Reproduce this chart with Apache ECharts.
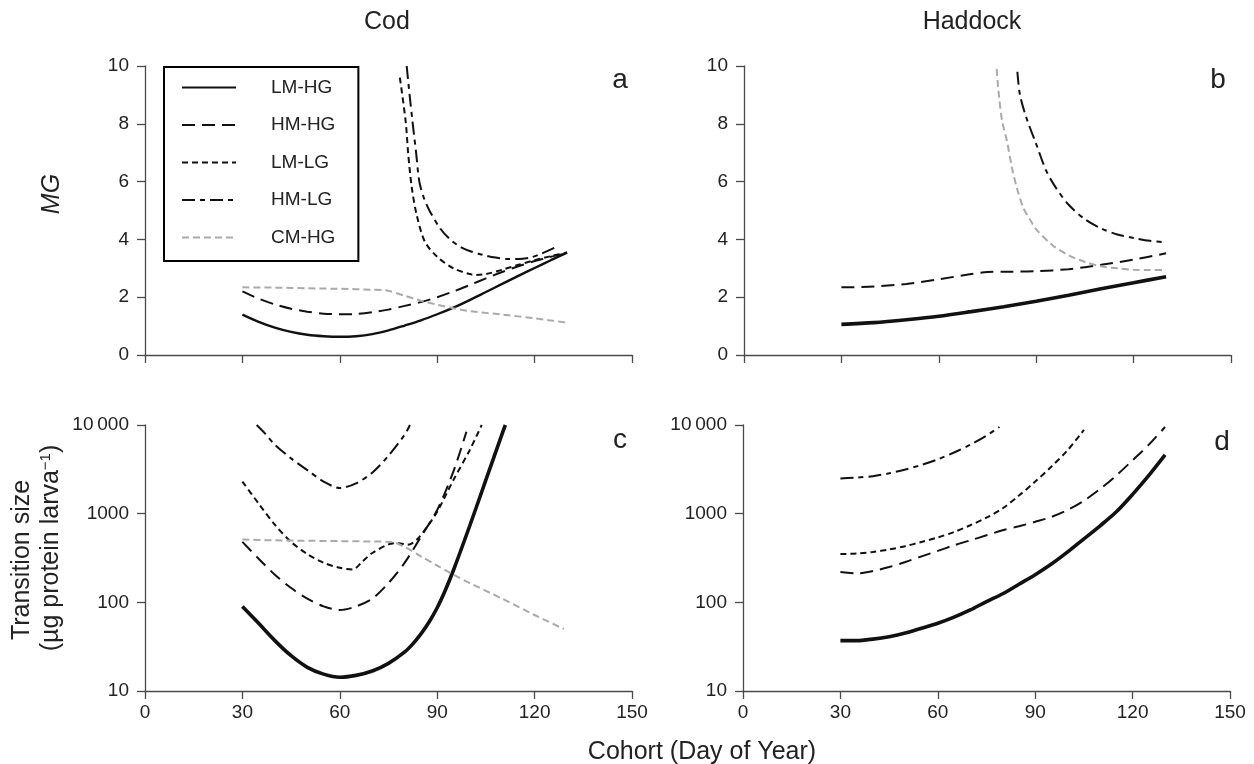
<!DOCTYPE html>
<html><head><meta charset="utf-8">
<script src="https://cdn.jsdelivr.net/npm/echarts@6/dist/echarts.min.js"></script>
<style>html,body{margin:0;padding:0;background:#fff}#c{width:1254px;height:764px}</style>
</head><body><div id="c"></div>
<script>
// ---------- tick labels ----------
const xTicks = [0, 30, 60, 90, 120, 150];
const mgTicks = [0, 2, 4, 6, 8, 10];
const sizeTicks = [10, 100, 1000, 10000];
const seriesNames = ['LM-HG', 'HM-HG', 'LM-LG', 'HM-LG', 'CM-HG'];

// ---------- panel a: Cod, MG ----------
const codMG_LMHG_x = [30,35,40,45,50,55,60,65,70,75,80,85,90,95,100,105,110,115,120,125,130];
const codMG_LMHG_y = [1.40,1.15,0.95,0.80,0.70,0.65,0.63,0.65,0.72,0.85,1.02,1.20,1.41,1.64,1.90,2.18,2.46,2.74,3.01,3.28,3.54];
const codMG_HMHG_x = [30,35,40,45,50,55,60,65,70,75,80,85,90,95,100,105,110,115,120,125,130];
const codMG_HMHG_y = [2.20,1.95,1.75,1.60,1.50,1.43,1.41,1.42,1.48,1.57,1.70,1.83,2.00,2.20,2.42,2.65,2.87,3.07,3.25,3.40,3.52];
const codMG_LMLG_x = [78.5,80.3,81.1,82.2,83.7,86.2,90,95,100,102,105,110,115,120,125,130];
const codMG_LMLG_y = [9.6,8.07,6.92,5.77,4.84,3.92,3.40,3.00,2.80,2.77,2.80,2.95,3.12,3.28,3.42,3.55];
const codMG_HMLG_x = [80.6,81.5,82.4,83.5,84.5,86,87.8,90.9,94,97,100,104.2,108,111.4,115,118.6,122,126.8];
const codMG_HMLG_y = [10,9.0,8.07,7.0,6.0,5.4,4.96,4.38,4.0,3.75,3.6,3.46,3.37,3.32,3.32,3.37,3.5,3.75];
const codMG_CMHG_x = [30,40,50,60,70,74,80,85,90,95,100,110,120,130];
const codMG_CMHG_y = [2.34,2.33,2.31,2.29,2.26,2.24,2.05,1.88,1.74,1.62,1.52,1.40,1.27,1.12];

// ---------- panel b: Haddock, MG ----------
const hadMG_LMHG_x = [30,40,50,60,70,80,90,100,110,120,130];
const hadMG_LMHG_y = [1.06,1.12,1.22,1.34,1.50,1.67,1.86,2.07,2.29,2.50,2.71];
const hadMG_HMHG_x = [30,40,50,60,70,75,80,90,100,110,120,130];
const hadMG_HMHG_y = [2.34,2.37,2.46,2.62,2.80,2.87,2.88,2.90,2.97,3.12,3.30,3.52];
const hadMG_HMLG_x = [84.2,85,87,90,93,96,100,105,110,115,120,125,130];
const hadMG_HMLG_y = [9.8,9.0,8.2,7.3,6.4,5.8,5.2,4.7,4.38,4.17,4.05,3.95,3.9];
const hadMG_CMHG_x = [77.8,78.5,79.5,81,82.5,84,86,88,90,95,100,105,110,115,120,125,130];
const hadMG_CMHG_y = [9.9,9.0,8.1,7.4,6.5,5.8,5.1,4.7,4.35,3.8,3.45,3.22,3.07,3.0,2.95,2.94,2.94];

// ---------- panel c: Cod, transition size ----------
const codTS_LMHG_x = [30,35,40,45,50,55,60,65,70,75,80,82.5,85,87.5,90,92.5,95,100,105,110,111];
const codTS_LMHG_y = [90,58,37,25,18.5,15.5,14.3,15,16.8,20.5,27.6,34,44,60,87,137,230,726,2400,7960,10000];
const codTS_HMHG_x = [30,35,40,45,50,55,60,65,70,75,80,85,90,95,99];
const codTS_HMHG_y = [480,310,205,145,110,90,82,90,110,165,280,550,1100,3000,8400];
const codTS_LMLG_x = [30,35,40,45,50,55,60,64,67,70,75,78,81,84,87,90,95,100,103.7];
const codTS_LMLG_y = [2300,1300,750,480,350,280,245,235,290,360,450,465,445,520,720,1050,2400,5200,10000];
const codTS_HMLG_x = [34.4,37,40,45,50,55,60,65,70,75,80,81.6];
const codTS_HMLG_y = [10000,8000,6000,4200,3100,2300,1950,2200,2900,4500,7800,10000];
const codTS_CMHG_x = [30,40,50,60,70,76,80,85,90,95,100,110,120,129];
const codTS_CMHG_y = [510,500,495,490,485,480,420,330,260,205,165,110,72,50];

// ---------- panel d: Haddock, transition size ----------
const hadTS_LMHG_x = [30,35,40,45,50,55,60,65,70,75,80,85,90,95,100,105,110,115,120,125,130];
const hadTS_LMHG_y = [37,37,38.5,41,45,51,58,68,82,102,125,160,205,270,370,520,730,1050,1650,2700,4600];
const hadTS_HMHG_x = [30,35,40,45,50,55,60,65,70,75,80,85,90,95,100,105,110,115,120,125,130];
const hadTS_HMHG_y = [220,212,225,250,285,330,380,440,500,570,650,720,810,920,1100,1400,1900,2700,4000,6000,9500];
const hadTS_LMLG_x = [30,35,40,45,50,55,60,65,70,75,80,85,90,95,100,105];
const hadTS_LMLG_y = [350,355,370,395,430,480,540,620,740,900,1150,1600,2300,3400,5200,8800];
const hadTS_HMLG_x = [30,35,40,45,50,55,60,65,70,75,79];
const hadTS_HMLG_y = [2500,2550,2650,2850,3150,3550,4100,4900,6000,7600,9500];

// ---------- styles ----------
const FONT = "'Liberation Sans', Arial, Helvetica, sans-serif";
const INK = '#222';
const AX = '#4a4a4a';
const styles = {
  'LM-HG': {color: '#111', width: 2.4, type: 'solid'},
  'HM-HG': {color: '#111', width: 2, type: [13, 7]},
  'LM-LG': {color: '#111', width: 2, type: [6, 4]},
  'HM-LG': {color: '#111', width: 2, type: [13, 5, 5, 5]},
  'CM-HG': {color: '#aaaaaa', width: 2, type: [7, 4]}
};

function pairs(xs, ys) { return xs.map((x, i) => [x, ys[i]]); }
function mk(name, xs, ys, idx, extra) {
  const st = Object.assign({}, styles[name], extra || {});
  return {
    name: name, type: 'line', xAxisIndex: idx, yAxisIndex: idx,
    data: pairs(xs, ys), symbol: 'none', showSymbol: false, smooth: 0.3,
    lineStyle: {color: st.color, width: st.width, type: st.type},
    itemStyle: {color: st.color}, emphasis: {disabled: true}, silent: true
  };
}

const series = [
  mk('LM-HG', codMG_LMHG_x, codMG_LMHG_y, 0),
  mk('HM-HG', codMG_HMHG_x, codMG_HMHG_y, 0),
  mk('LM-LG', codMG_LMLG_x, codMG_LMLG_y, 0),
  mk('HM-LG', codMG_HMLG_x, codMG_HMLG_y, 0),
  mk('CM-HG', codMG_CMHG_x, codMG_CMHG_y, 0),
  mk('LM-HG', hadMG_LMHG_x, hadMG_LMHG_y, 1, {width: 3.6}),
  mk('HM-HG', hadMG_HMHG_x, hadMG_HMHG_y, 1),
  mk('HM-LG', hadMG_HMLG_x, hadMG_HMLG_y, 1),
  mk('CM-HG', hadMG_CMHG_x, hadMG_CMHG_y, 1),
  mk('LM-HG', codTS_LMHG_x, codTS_LMHG_y, 2, {width: 3.6}),
  mk('HM-HG', codTS_HMHG_x, codTS_HMHG_y, 2),
  mk('LM-LG', codTS_LMLG_x, codTS_LMLG_y, 2),
  mk('HM-LG', codTS_HMLG_x, codTS_HMLG_y, 2),
  mk('CM-HG', codTS_CMHG_x, codTS_CMHG_y, 2),
  mk('LM-HG', hadTS_LMHG_x, hadTS_LMHG_y, 3, {width: 3.6}),
  mk('HM-HG', hadTS_HMHG_x, hadTS_HMHG_y, 3),
  mk('LM-LG', hadTS_LMLG_x, hadTS_LMLG_y, 3),
  mk('HM-LG', hadTS_HMLG_x, hadTS_HMLG_y, 3)
];

const grids = [
  {left: 145, top: 66, width: 487, height: 289},
  {left: 744, top: 66, width: 487, height: 289},
  {left: 145, top: 425, width: 487, height: 266},
  {left: 743, top: 425, width: 487, height: 266}
];

const axLine = {lineStyle: {color: AX, width: 1.3}};
const axTick = {length: 8, lineStyle: {color: AX, width: 1.3}};
const labelBase = {color: INK, fontSize: 19, fontFamily: FONT};

const xAxis = grids.map((g, i) => ({
  type: 'value', gridIndex: i, min: xTicks[0], max: xTicks[xTicks.length - 1],
  interval: xTicks[1] - xTicks[0],
  axisLine: axLine, axisTick: axTick, splitLine: {show: false},
  axisLabel: Object.assign({show: i >= 2, margin: 12}, labelBase)
}));
const yAxis = grids.map((g, i) => i < 2 ? ({
  type: 'value', gridIndex: i, min: mgTicks[0], max: mgTicks[mgTicks.length - 1],
  interval: mgTicks[1] - mgTicks[0],
  axisLine: axLine, axisTick: axTick, splitLine: {show: false},
  axisLabel: Object.assign({margin: 16}, labelBase)
}) : ({
  type: 'log', logBase: 10, gridIndex: i, min: sizeTicks[0], max: sizeTicks[sizeTicks.length - 1],
  axisLine: axLine, axisTick: axTick, splitLine: {show: false}, minorTick: {show: false},
  axisLabel: Object.assign({margin: 16, formatter: v => v >= 10000 ? '10\u2009000' : String(v)}, labelBase)
}));

function txt(x, y, text, size) {
  return {
    type: 'text', x: x, y: y, silent: true,
    style: {text: text, fill: INK, font: size + 'px ' + FONT, align: 'center', verticalAlign: 'middle'}
  };
}

const graphic = [
  txt(387, 22, 'Cod', 25),
  txt(972, 22, 'Haddock', 25),
  txt(702, 752, 'Cohort (Day of Year)', 25),
  txt(620, 80, 'a', 28),
  txt(1218, 80, 'b', 28),
  txt(620, 440, 'c', 28),
  txt(1222, 442, 'd', 28),
  {type: 'text', x: 52, y: 194, rotation: Math.PI / 2, silent: true,
   style: {text: 'MG', fill: INK, font: 'italic 25px ' + FONT, align: 'center', verticalAlign: 'middle'}},
  {type: 'text', x: 22, y: 560, rotation: Math.PI / 2, silent: true,
   style: {text: 'Transition size', fill: INK, font: '25px ' + FONT, align: 'center', verticalAlign: 'middle'}},
  {type: 'text', x: 51, y: 548, rotation: Math.PI / 2, silent: true,
   style: {text: '(µg protein larva{sup|−1})', fill: INK, font: '25px ' + FONT, align: 'center', verticalAlign: 'middle',
     rich: {sup: {fontSize: 15, fontFamily: FONT, fill: INK, verticalAlign: 'top', lineHeight: 25}}}}
];

const chart = echarts.init(document.getElementById('c'), null, {renderer: 'canvas'});
chart.setOption({
  animation: false,
  backgroundColor: '#fff',
  grid: grids,
  xAxis: xAxis,
  yAxis: yAxis,
  legend: {
    data: seriesNames, orient: 'vertical', left: 164, top: 67,
    itemWidth: 54, itemHeight: 20, itemGap: 18.5,
    padding: [11, 23, 14, 17],
    borderColor: '#000', borderWidth: 2, backgroundColor: '#fff',
    selectedMode: false,
    itemStyle: {opacity: 0},
    textStyle: {color: INK, fontSize: 19, fontFamily: FONT, padding: [0, 0, 0, 30]}
  },
  series: series,
  graphic: graphic
});
</script></body></html>
